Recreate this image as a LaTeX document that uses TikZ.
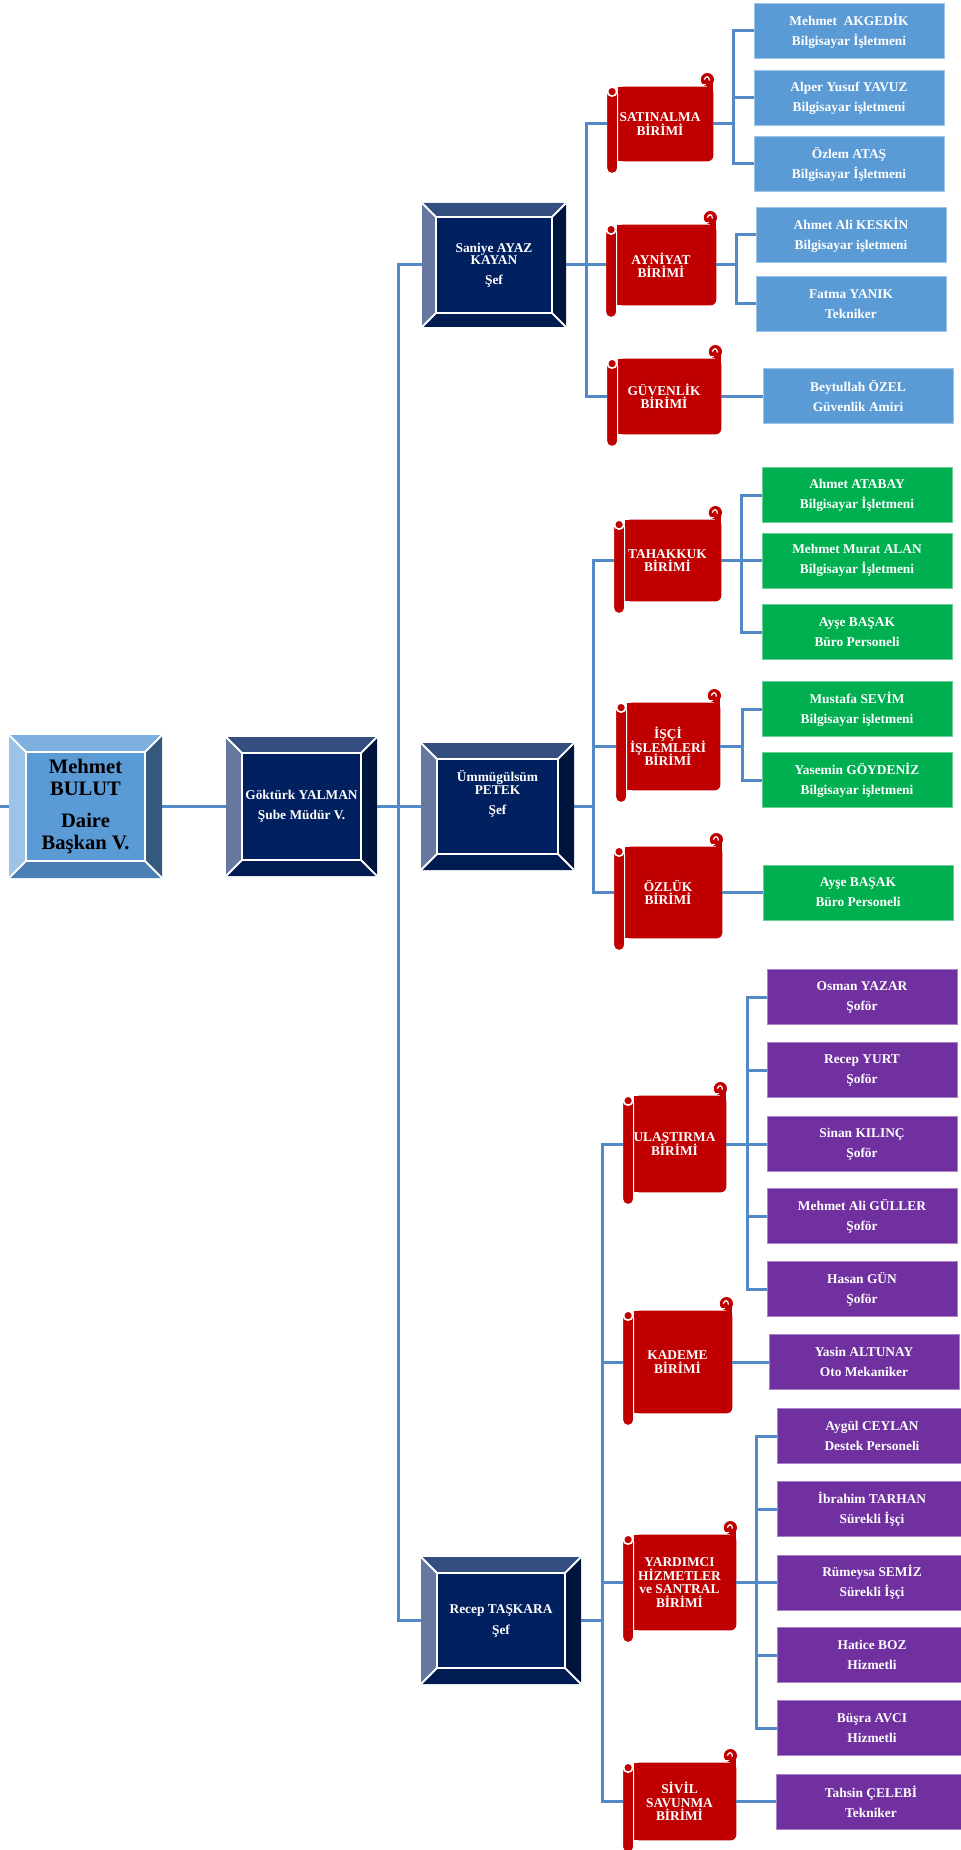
\documentclass[tikz,border=0pt]{standalone}
\usepackage{fontspec}
\setmainfont{Liberation Serif}
\usetikzlibrary{backgrounds,calc}
\definecolor{hatmavi}{RGB}{84,137,200}
\definecolor{birimred}{RGB}{192,0,0}
\definecolor{mavi}{RGB}{91,155,213}
\definecolor{yesil}{RGB}{0,176,80}
\definecolor{mor}{RGB}{112,48,160}
\definecolor{lvtop}{RGB}{52,78,128}
\definecolor{lvleft}{RGB}{103,120,160}
\definecolor{lvright}{RGB}{0,21,61}
\definecolor{lvbottom}{RGB}{0,28,80}
\definecolor{lvinner}{RGB}{0,32,96}
\definecolor{mbtop}{RGB}{125,176,222}
\definecolor{mbleft}{RGB}{157,195,230}
\definecolor{mbright}{RGB}{53,89,125}
\definecolor{mbbottom}{RGB}{74,126,180}
\definecolor{mbinner}{RGB}{91,155,213}

\newcommand{\bevel}[6]{%
  \coordinate (bnw) at (path picture bounding box.north west);
  \coordinate (bne) at (path picture bounding box.north east);
  \coordinate (bsw) at (path picture bounding box.south west);
  \coordinate (bse) at (path picture bounding box.south east);
  \coordinate (inw) at ($(bnw)+(#6,#6)$);
  \coordinate (ine) at ($(bne)+(-#6,#6)$);
  \coordinate (isw) at ($(bsw)+(#6,-#6)$);
  \coordinate (ise) at ($(bse)+(-#6,-#6)$);
  \fill[#1] (bnw) -- (bne) -- (ine) -- (inw) -- cycle;
  \fill[#2] (bnw) -- (inw) -- (isw) -- (bsw) -- cycle;
  \fill[#3] (bne) -- (bse) -- (ise) -- (ine) -- cycle;
  \fill[#4] (bsw) -- (isw) -- (ise) -- (bse) -- cycle;
  \filldraw[fill=#5, draw=white, line width=1pt] (inw) rectangle (ise);
  \draw[white, line width=1pt] (bnw) -- (inw) (bne) -- (ine) (bsw) -- (isw) (bse) -- (ise);
}

\newcommand{\birim}[6]{%
  \node[birimyazi, minimum width=#4*0.5pt, minimum height=#5*0.5pt] (#1) at (#2,#3) {#6};
  \begin{scope}[on background layer]
    \fill[birimred] ($(#1.north west)+(11,0)$) rectangle ($(#1.south east)+(-6,0)$);
    \fill[birimred] ($(#1.north west)+(11,0)$) rectangle ($(#1.south east)+(0,-6)$);
    \fill[birimred, rounded corners=3pt] ($(#1.north west)+(11,0)$) rectangle (#1.south east);
    \fill[birimred] ($(#1.north east)+(-6,-7)$) rectangle (#1.north east);
    \fill[birimred] ($(#1.north east)+(-6,-7)$) circle (3.3pt);
    \draw[white, line width=0.6pt] ($(#1.north east)+(-9,-7)$) .. controls ($(#1.north east)+(-8,-11)$) and ($(#1.north east)+(-4,-11)$) .. ($(#1.north east)+(-4,-6)$);
    \draw[white, line width=0.6pt] ($(#1.north east)+(-12,-2)$) -- ($(#1.north east)+(-7,-2)$);
    \filldraw[fill=birimred, draw=white, line width=0.6pt, rounded corners=2.5pt] ($(#1.north west)+(0,3)$) rectangle ($(#1.south west)+(11,12)$);
    \filldraw[fill=birimred, draw=white, line width=0.8pt] ($(#1.north west)+(5.5,5)$) circle (2.3pt);
  \end{scope}
}

\begin{document}
\begin{tikzpicture}[x=0.5pt, y=-0.5pt,
    hat/.style={draw=hatmavi, line width=1.5pt},
    lacivert/.style={fill=lvinner, inner sep=0, text=white, align=center,
      font={\fontsize{6.7}{6.2}\selectfont\bfseries\lineskiplimit=-5pt},
      path picture={\bevel{lvtop}{lvleft}{lvright}{lvbottom}{lvinner}{#1}}},
    lacivert/.default=16,
    acikmavi/.style={fill=mbinner, inner sep=0, text=black, align=center,
      font={\fontsize{10.3}{11}\selectfont\bfseries},
      path picture={\bevel{mbtop}{mbleft}{mbright}{mbbottom}{mbinner}{17}}},
    birimyazi/.style={inner sep=0, text=white, align=center,
      font={\fontsize{6.7}{6.7}\selectfont\bfseries\lineskiplimit=-5pt}},
    yaprak/.style={fill=#1, draw=#1!60!white, line width=0.5pt, text=white, align=center,
      font={\fontsize{6.7}{10}\selectfont\bfseries},
      minimum width=95pt, minimum height=27.5pt, inner sep=0}]
  \useasboundingbox (0,0) rectangle (960,1850);

  \node[acikmavi, minimum width=153*0.5pt, minimum height=143*0.5pt] (bulut) at (85.5,806.5) {Mehmet\\BULUT\\[5pt]Daire\\Başkan V.};
  \node[lacivert, minimum width=151*0.5pt, minimum height=139*0.5pt] (gokturk) at (301.5,806.5) {Göktürk YALMAN\\[3.8pt]Şube Müdür V.};
  \node[lacivert=14, minimum width=144*0.5pt, minimum height=124*0.5pt] (saniye) at (494,265) {Saniye AYAZ\\KAYAN\\[3.8pt]Şef};
  \node[lacivert, minimum width=153*0.5pt, minimum height=127*0.5pt, text depth=14pt] (ummugulsum) at (497.5,806.5) {Ümmügülsüm\\PETEK\\[3.8pt]Şef};
  \node[lacivert, minimum width=160*0.5pt, minimum height=127*0.5pt] (recep) at (501,1620.5) {Recep TAŞKARA\\[4.3pt]Şef};

  \birim{satinalma}{660}{124}{106}{74}{SATINALMA\\BİRİMİ}
  \birim{ayniyat}{661}{265}{110}{80}{AYNİYAT\\BİRİMİ}
  \birim{guvenlik}{664}{396.5}{114}{75}{GÜVENLİK\\BİRİMİ}
  \birim{tahakkuk}{667.5}{560.5}{107}{81}{TAHAKKUK\\BİRİMİ}
  \birim{isci}{668}{746.5}{104}{87}{İŞÇİ\\İŞLEMLERİ\\BİRİMİ}
  \birim{ozluk}{668}{892.5}{108}{91}{ÖZLÜK\\BİRİMİ}
  \birim{ulastirma}{674.5}{1144}{103}{96}{ULAŞTIRMA\\BİRİMİ}
  \birim{kademe}{677.5}{1362}{109}{102}{KADEME\\BİRİMİ}
  \birim{yardimci}{679.5}{1582.5}{113}{95}{YARDIMCI\\HİZMETLER\\ve SANTRAL\\BİRİMİ}
  \birim{sivil}{679.5}{1801.5}{113}{77}{SİVİL\\SAVUNMA\\BİRİMİ}

  \node[yaprak=mavi] (akgedik) at (849,31) {Mehmet\ \ AKGEDİK\\Bilgisayar İşletmeni};
  \node[yaprak=mavi] (yavuz) at (849,98) {Alper Yusuf YAVUZ\\Bilgisayar işletmeni};
  \node[yaprak=mavi] (atas) at (849,164) {Özlem ATAŞ\\Bilgisayar İşletmeni};
  \node[yaprak=mavi] (keskin) at (851,235) {Ahmet Ali KESKİN\\Bilgisayar işletmeni};
  \node[yaprak=mavi] (yanik) at (851,304) {Fatma YANIK\\Tekniker};
  \node[yaprak=mavi] (ozel) at (858,396.5) {Beytullah ÖZEL\\Güvenlik Amiri};

  \node[yaprak=yesil] (atabay) at (857,495) {Ahmet ATABAY\\Bilgisayar İşletmeni};
  \node[yaprak=yesil] (alan) at (857,560.5) {Mehmet Murat ALAN\\Bilgisayar İşletmeni};
  \node[yaprak=yesil] (basak) at (857,632) {Ayşe BAŞAK\\Büro Personeli};
  \node[yaprak=yesil] (sevim) at (857,709) {Mustafa SEVİM\\Bilgisayar işletmeni};
  \node[yaprak=yesil] (goydeniz) at (857,780) {Yasemin GÖYDENİZ\\Bilgisayar işletmeni};
  \node[yaprak=yesil] (basakiki) at (858,892.5) {Ayşe BAŞAK\\Büro Personeli};

  \node[yaprak=mor] (yazar) at (862,997) {Osman YAZAR\\Şoför};
  \node[yaprak=mor] (yurt) at (862,1070) {Recep YURT\\Şoför};
  \node[yaprak=mor] (kilinc) at (862,1144) {Sinan KILINÇ\\Şoför};
  \node[yaprak=mor] (guller) at (862,1216) {Mehmet Ali GÜLLER\\Şoför};
  \node[yaprak=mor] (gun) at (862,1289) {Hasan GÜN\\Şoför};
  \node[yaprak=mor] (altunay) at (864,1362) {Yasin ALTUNAY\\Oto Mekaniker};
  \node[yaprak=mor] (ceylan) at (872,1436) {Aygül CEYLAN\\Destek Personeli};
  \node[yaprak=mor] (tarhan) at (872,1509) {İbrahim TARHAN\\Sürekli İşçi};
  \node[yaprak=mor] (semiz) at (872,1582.5) {Rümeysa SEMİZ\\Sürekli İşçi};
  \node[yaprak=mor] (boz) at (872,1655) {Hatice BOZ\\Hizmetli};
  \node[yaprak=mor] (avci) at (872,1728) {Büşra AVCI\\Hizmetli};
  \node[yaprak=mor] (celebi) at (871,1801.5) {Tahsin ÇELEBİ\\Tekniker};

  \coordinate (solkenar) at (0,806.5);
  \draw[hat] (solkenar) -- (bulut.west);
  \draw[hat] (bulut.east) -- (gokturk.west);
  \draw[hat] (gokturk.east) -- ++(21,0) coordinate (govde);
  \draw[hat] (saniye.west) -| (govde) |- (recep.west);
  \draw[hat] (govde) -- (ummugulsum.west);

  \draw[hat] (saniye.east) -- ++(20,0) coordinate (d1);
  \draw[hat] (satinalma.west) -| (d1) |- (guvenlik.west);
  \draw[hat] (d1) -- (ayniyat.west);
  \draw[hat] (ummugulsum.east) -- ++(19,0) coordinate (d2);
  \draw[hat] (tahakkuk.west) -| (d2) |- (ozluk.west);
  \draw[hat] (d2) |- (isci.west);
  \draw[hat] (recep.east) -- ++(21,0) coordinate (d3);
  \draw[hat] (ulastirma.west) -| (d3) |- (sivil.west);
  \draw[hat] (d3) |- (kademe.west);
  \draw[hat] (d3) |- (yardimci.west);

  \draw[hat] (satinalma.east) -- ++(20,0) coordinate (s1);
  \draw[hat] (akgedik.west) -| (s1) |- (atas.west);
  \draw[hat] (s1) |- (yavuz.west);
  \draw[hat] (ayniyat.east) -- ++(20,0) coordinate (s2);
  \draw[hat] (keskin.west) -| (s2) |- (yanik.west);
  \draw[hat] (guvenlik.east) -- (ozel.west);
  \draw[hat] (tahakkuk.east) -- ++(20,0) coordinate (s3);
  \draw[hat] (atabay.west) -| (s3) |- (basak.west);
  \draw[hat] (s3) |- (alan.west);
  \draw[hat] (isci.east) -- ++(22,0) coordinate (s4);
  \draw[hat] (sevim.west) -| (s4) |- (goydeniz.west);
  \draw[hat] (ozluk.east) -- (basakiki.west);
  \draw[hat] (ulastirma.east) -- ++(21,0) coordinate (s5);
  \draw[hat] (yazar.west) -| (s5) |- (gun.west);
  \draw[hat] (s5) |- (yurt.west);
  \draw[hat] (s5) |- (kilinc.west);
  \draw[hat] (s5) |- (guller.west);
  \draw[hat] (kademe.east) -- (altunay.west);
  \draw[hat] (yardimci.east) -- ++(20,0) coordinate (s6);
  \draw[hat] (ceylan.west) -| (s6) |- (avci.west);
  \draw[hat] (s6) |- (tarhan.west);
  \draw[hat] (s6) |- (semiz.west);
  \draw[hat] (s6) |- (boz.west);
  \draw[hat] (sivil.east) -- (celebi.west);
\end{tikzpicture}
\end{document}
